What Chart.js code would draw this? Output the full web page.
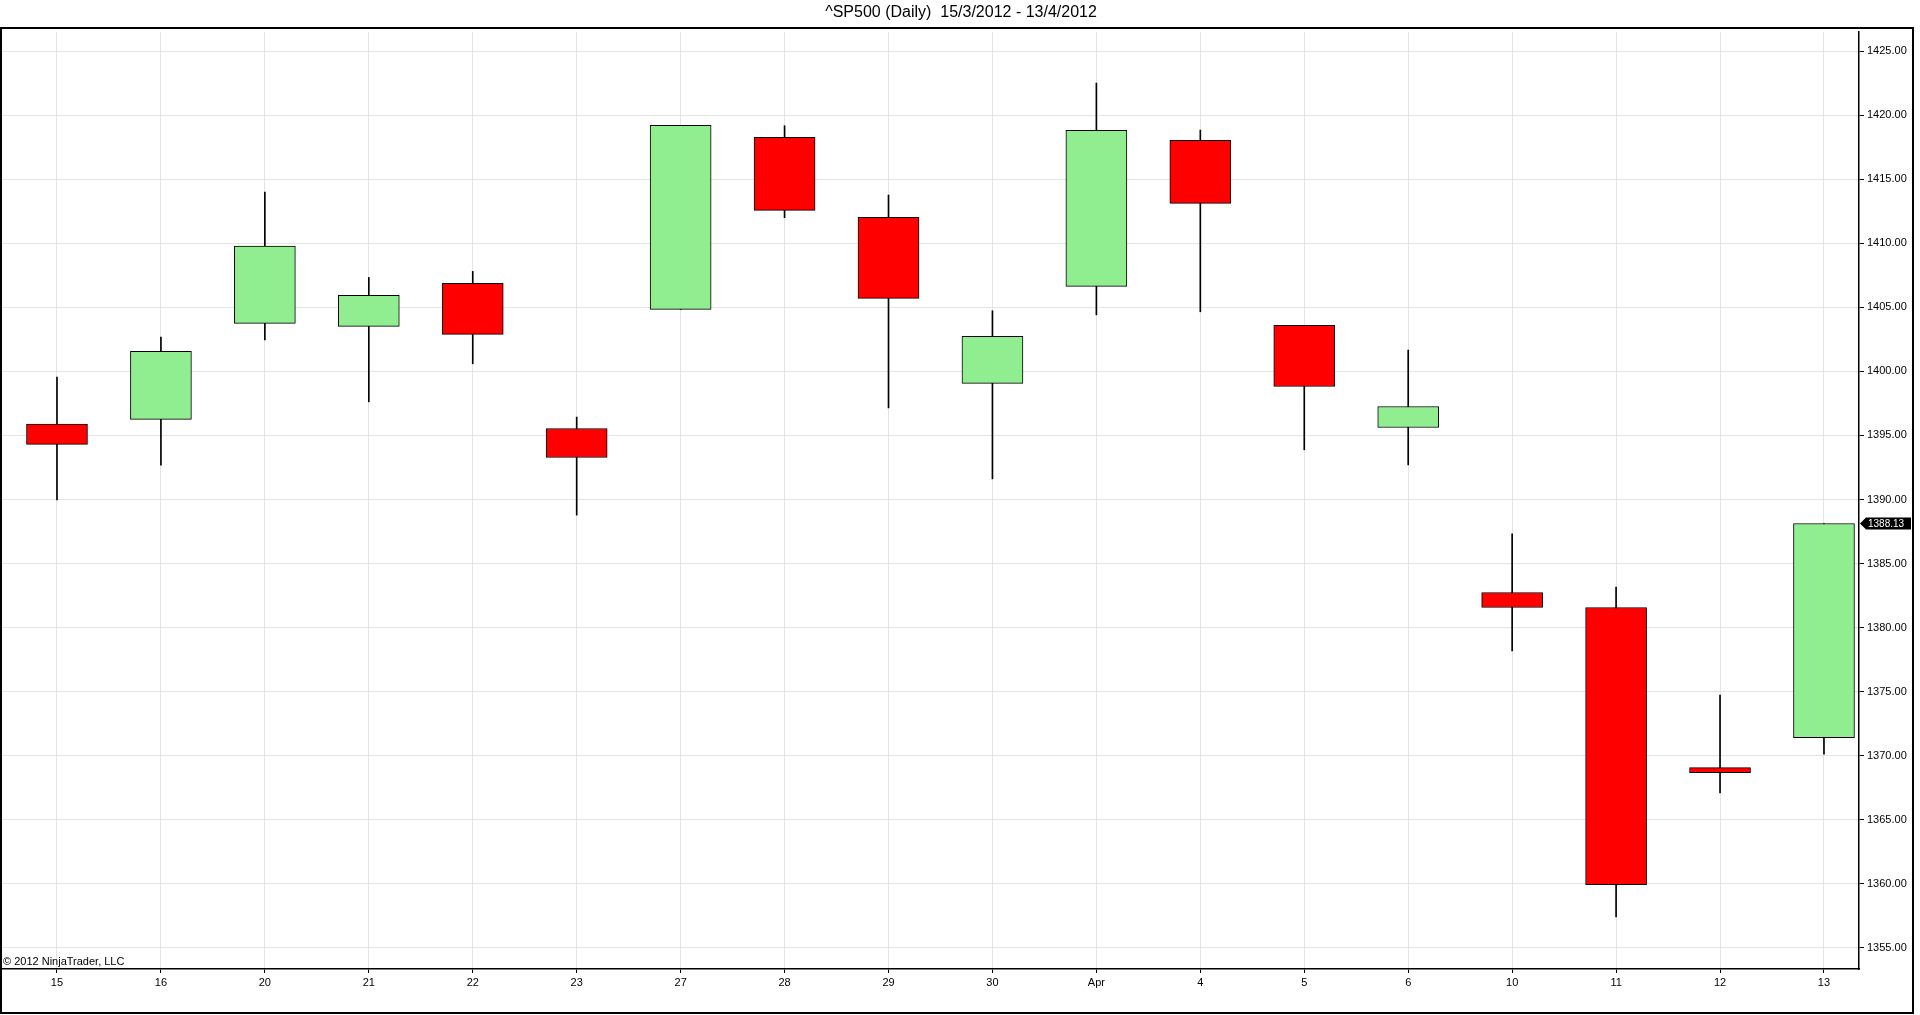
<!DOCTYPE html>
<html>
<head>
<meta charset="utf-8">
<title>^SP500 (Daily)</title>
<script src="https://cdn.jsdelivr.net/npm/chart.js@4"></script>
<style>
  html, body { margin: 0; padding: 0; background: #fff; }
  #wrap { width: 1920px; height: 1015px; }
</style>
</head>
<body>
<div id="wrap"><canvas id="myChart" width="1920" height="1015"></canvas></div>
<script>
'use strict';

// Data

let days = ['15', '16', '20', '21', '22', '23', '27', '28', '29', '30', 'Apr', '4', '5', '6', '10', '11', '12', '13'];

let openPrices = [1395.88, 1396.25, 1403.74, 1403.51, 1406.87, 1395.54, 1404.84, 1418.26, 1412.02, 1399.06, 1406.63, 1418.03, 1403.59, 1395.62, 1382.74, 1381.57, 1369.08, 1371.42];
let highPrices = [1399.55, 1402.67, 1413.99, 1407.33, 1407.80, 1396.43, 1419.20, 1419.17, 1413.76, 1404.73, 1422.50, 1418.83, 1403.59, 1401.66, 1387.32, 1383.16, 1374.73, 1388.13];
let lowPrices = [1389.97, 1392.68, 1402.46, 1397.62, 1400.59, 1388.78, 1404.84, 1411.99, 1397.15, 1391.61, 1404.41, 1404.65, 1393.88, 1392.70, 1378.19, 1357.42, 1367.10, 1370.12];
let closePrices = [1394.30, 1401.56, 1409.78, 1405.93, 1402.88, 1393.28, 1419.20, 1412.56, 1405.69, 1402.73, 1418.81, 1413.11, 1398.82, 1397.26, 1381.57, 1359.95, 1368.69, 1388.13];

let priceTicks = [1355, 1360, 1365, 1370, 1375, 1380, 1385, 1390, 1395, 1400, 1405, 1410, 1415, 1420, 1425];

let titleText = '^SP500 (Daily)  15/3/2012 - 13/4/2012';
let copyText = '\u00A9 2012 NinjaTrader, LLC';

let upColor = '#90ee90';
let downColor = '#ff0000';

// build the datasets from the arrays
let wickData = [];
let bodyData = [];
let bodyColors = [];

for (let i = 0; i < days.length; i++) {
  wickData.push({ x: i, y: [lowPrices[i], highPrices[i]] });
  bodyData.push({ x: i, y: [openPrices[i], closePrices[i]] });
  bodyColors.push(closePrices[i] >= openPrices[i] ? upColor : downColor);
}

// outer frame, copyright and last price marker
let extrasPlugin = {
  id: 'extras',
  afterDraw(chart) {
    let c = chart.ctx;
    let yScale = chart.scales.y;
    c.save();

    c.strokeStyle = '#000';
    c.lineWidth = 2;
    c.strokeRect(1, 28, 1912, 985);

    c.fillStyle = '#000';
    c.font = '11px "Liberation Sans", Arial, sans-serif';
    c.textBaseline = 'bottom';
    c.textAlign = 'left';
    c.fillText(copyText, 3, 967);

    let last = closePrices[closePrices.length - 1];
    let py = Math.round(yScale.getPixelForValue(last)) + 0.5;
    let x0 = chart.chartArea.right + 1;
    c.beginPath();
    c.moveTo(x0, py);
    c.lineTo(x0 + 6, py - 6);
    c.lineTo(1911, py - 6);
    c.lineTo(1911, py + 6);
    c.lineTo(x0 + 6, py + 6);
    c.closePath();
    c.fill();
    c.fillStyle = '#fff';
    c.font = '10px "Liberation Sans", Arial, sans-serif';
    c.textBaseline = 'middle';
    c.fillText(last.toFixed(2), x0 + 8, py + 0.5);

    c.restore();
  }
};

let ctx = document.getElementById('myChart').getContext('2d');

let chartObject = {
  type: 'bar',
  data: {
    datasets: [{
      label: 'wick',
      data: wickData,
      backgroundColor: '#000',
      borderWidth: 0,
      barThickness: 1,
      grouped: false,
      order: 2
    },
    {
      label: 'body',
      data: bodyData,
      backgroundColor: bodyColors,
      borderColor: '#000',
      borderWidth: 1,
      borderSkipped: false,
      barThickness: 61,
      grouped: false,
      order: 1
    }]
  },
  options: {
    responsive: false,
    animation: false,
    layout: {
      padding: { left: 2, right: 0, top: 0, bottom: 0 }
    },
    plugins: {
      legend: { display: false },
      tooltip: { enabled: false },
      title: {
        display: true,
        text: titleText,
        color: '#000',
        font: { family: '"Liberation Sans", Arial, sans-serif', size: 16, weight: 'normal' },
        padding: { top: 3, bottom: 9.8 }
      }
    },
    scales: {
      x: {
        type: 'linear',
        offset: false,
        min: -0.529,
        max: 17.337,
        afterBuildTicks(scale) {
          scale.ticks = days.map((d, i) => ({ value: i }));
        },
        afterFit(scale) {
          scale.height = 46;
        },
        ticks: {
          color: '#000',
          autoSkip: false,
          maxRotation: 0,
          padding: 3,
          font: { family: '"Liberation Sans", Arial, sans-serif', size: 11 },
          callback: (value) => days[value]
        },
        grid: {
          offset: false,
          color: '#e3e3e3',
          tickColor: '#000',
          tickLength: 4
        },
        border: { display: true, color: '#000', width: 1.5 }
      },
      y: {
        position: 'right',
        min: 1353.361,
        max: 1426.483,
        afterBuildTicks(scale) {
          scale.ticks = priceTicks.map(v => ({ value: v }));
        },
        afterFit(scale) {
          scale.width = 61;
        },
        ticks: {
          color: '#000',
          padding: 3,
          font: { family: '"Liberation Sans", Arial, sans-serif', size: 11 },
          callback: (value) => Number(value).toFixed(2)
        },
        grid: {
          color: '#e3e3e3',
          tickColor: '#000',
          tickLength: 5
        },
        border: { display: true, color: '#000', width: 1.5 }
      }
    }
  },
  plugins: [extrasPlugin]
};

new Chart(ctx, chartObject); //eslint-disable-line
</script>
</body>
</html>
